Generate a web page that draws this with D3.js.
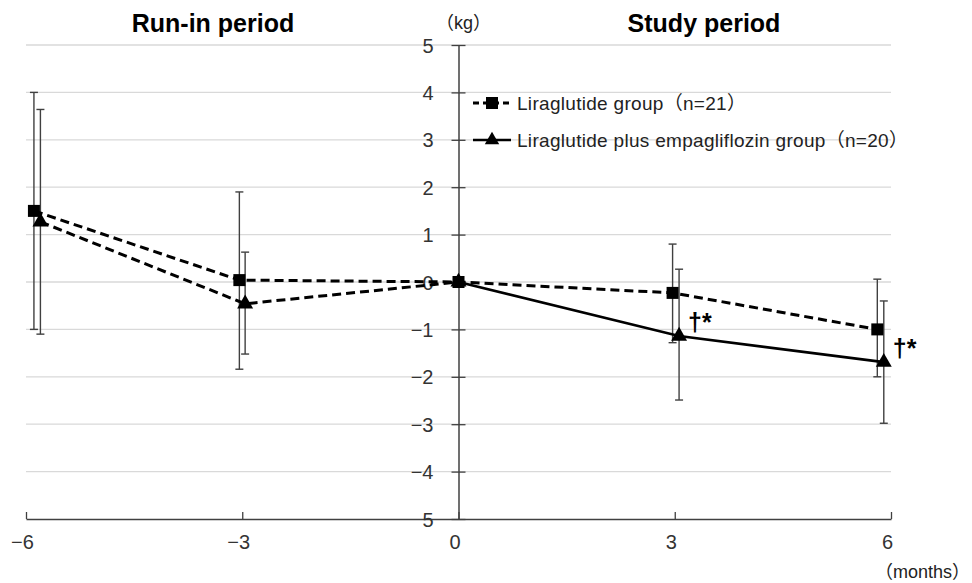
<!DOCTYPE html>
<html>
<head>
<meta charset="utf-8">
<script src="https://cdn.jsdelivr.net/npm/d3@7"></script>
<style>
  body { margin: 0; background: #fff; }
  svg { display: block; }
</style>
</head>
<body>
<svg id="chart" width="972" height="583"></svg>
<script>
// ---- data ----
const monthTicks = [-6, -3, 0, 3, 6];
const yTicks = [-5, -4, -3, -2, -1, 0, 1, 2, 3, 4, 5];
const yTickLabels = ["5", "\u22124", "\u22123", "\u22122", "\u22121", "0", "1", "2", "3", "4", "5"];
const xTickLabels = ["\u22126", "\u22123", "0", "3", "6"];

const liraName = "Liraglutide group\uFF08n=21\uFF09";
const liraX = [-5.89, -3.04, 0, 2.97, 5.81];
const liraMean = [1.5, 0.04, 0, -0.23, -1.0];
const liraUpper = [4.0, 1.9, null, 0.8, 0.06];
const liraLower = [-1.0, -1.84, null, -1.28, -2.0];

const empaName = "Liraglutide plus empagliflozin group\uFF08n=20\uFF09";
const empaX = [-5.8, -2.96, 0, 3.06, 5.9];
const empaMean = [1.27, -0.46, 0, -1.14, -1.69];
const empaUpper = [3.64, 0.63, null, 0.27, -0.4];
const empaLower = [-1.1, -1.52, null, -2.49, -2.98];

const sigLabels = ["", "", "", "\u2020*", "\u2020*"];

// ---- layout ----
const svg = d3.select("#chart");
const x = d3.scaleLinear().domain([-6, 6]).range([26, 891]);
const y = d3.scaleLinear().domain([-5, 5]).range([519, 45]);
const axisFont = "'Liberation Sans', Arial, 'Noto Sans CJK JP', sans-serif";

// gridlines
svg.append("g").selectAll("line").data(yTicks.filter(d => d > -5)).join("line")
  .attr("x1", x(-6)).attr("x2", x(6))
  .attr("y1", d => y(d)).attr("y2", d => y(d))
  .attr("stroke", "#d9d9d9").attr("stroke-width", 1.3);

// x axis (at y = -5)
const xAxis = d3.axisBottom(x).tickValues(monthTicks).tickSize(0).tickFormat((d, i) => xTickLabels[i]);
const gx = svg.append("g").attr("transform", `translate(0,${y(-5)})`).call(xAxis);
gx.select(".domain").attr("stroke", "#404040").attr("stroke-width", 1.5);
gx.selectAll(".tick line").remove();
gx.selectAll(".tick").append("line").attr("y1", 0).attr("y2", -7)
  .attr("stroke", "#404040").attr("stroke-width", 1.3);
gx.selectAll(".tick text").attr("dy", "1.35em").attr("dx", -4)
  .attr("font-size", 20).attr("font-family", axisFont).attr("fill", "#333");

// y axis at x = 0
const yAxis = d3.axisLeft(y).tickValues(yTicks).tickSize(0).tickFormat((d, i) => yTickLabels[i]);
const gy = svg.append("g").attr("transform", `translate(${x(0)},0)`).call(yAxis);
gy.select(".domain").attr("stroke", "#404040").attr("stroke-width", 1.5);
gy.selectAll(".tick line").remove();
gy.selectAll(".tick").append("line").attr("x1", -7).attr("x2", 7)
  .attr("stroke", "#404040").attr("stroke-width", 1.3);
gy.selectAll(".tick text").attr("x", -25).attr("dy", "0.35em")
  .attr("font-size", 20).attr("font-family", axisFont).attr("fill", "#333");

// unit labels
svg.append("text").attr("x", x(0) + 5).attr("y", 29).attr("text-anchor", "middle")
  .attr("font-size", 18).attr("font-family", axisFont).attr("fill", "#222").text("\uFF08kg\uFF09");
svg.append("text").attr("x", 970).attr("y", 578).attr("text-anchor", "end")
  .attr("font-size", 18).attr("font-family", axisFont).attr("fill", "#222").text("\uFF08months\uFF09");

// titles
svg.append("text").attr("x", 213).attr("y", 32).attr("text-anchor", "middle")
  .attr("font-size", 25).attr("font-weight", "bold").attr("font-family", axisFont).text("Run-in period");
svg.append("text").attr("x", 704).attr("y", 32).attr("text-anchor", "middle")
  .attr("font-size", 25).attr("font-weight", "bold").attr("font-family", axisFont).text("Study period");

// error bars
function errorBars(xs, up, lo) {
  const g = svg.append("g").attr("stroke", "#404040").attr("stroke-width", 1.4);
  xs.forEach((xv, i) => {
    if (up[i] == null) return;
    const cx = x(xv);
    g.append("line").attr("x1", cx).attr("x2", cx).attr("y1", y(up[i])).attr("y2", y(lo[i]));
    g.append("line").attr("x1", cx - 4).attr("x2", cx + 4).attr("y1", y(up[i])).attr("y2", y(up[i]));
    g.append("line").attr("x1", cx - 4).attr("x2", cx + 4).attr("y1", y(lo[i])).attr("y2", y(lo[i]));
  });
}
errorBars(liraX, liraUpper, liraLower);
errorBars(empaX, empaUpper, empaLower);

const line = d3.line().x(d => x(d[0])).y(d => y(d[1]));
const liraPts = liraX.map((v, i) => [v, liraMean[i]]);
const empaPts = empaX.map((v, i) => [v, empaMean[i]]);

// empa: dashed for run-in, solid for study period
svg.append("path").attr("d", line(empaPts.slice(0, 3))).attr("fill", "none")
  .attr("stroke", "#000").attr("stroke-width", 3).attr("stroke-dasharray", "9,5");
svg.append("path").attr("d", line(empaPts.slice(2))).attr("fill", "none")
  .attr("stroke", "#000").attr("stroke-width", 2.6);
// lira dashed
svg.append("path").attr("d", line(liraPts)).attr("fill", "none")
  .attr("stroke", "#000").attr("stroke-width", 3).attr("stroke-dasharray", "9,5");

// markers
svg.append("g").selectAll("path").data(empaPts).join("path")
  .attr("transform", d => `translate(${x(d[0])},${y(d[1])})`)
  .attr("d", d3.symbol(d3.symbolTriangle, 110)).attr("fill", "#000");
svg.append("g").selectAll("rect").data(liraPts).join("rect")
  .attr("x", d => x(d[0]) - 6).attr("y", d => y(d[1]) - 6)
  .attr("width", 12).attr("height", 12).attr("fill", "#000");

// significance
empaPts.forEach((d, i) => {
  if (!sigLabels[i]) return;
  svg.append("text").attr("x", x(d[0]) + 9).attr("y", y(d[1]) - 5)
    .attr("font-size", 25).attr("font-weight", "bold").attr("font-family", axisFont)
    .text(sigLabels[i]);
});

// legend
const lg = svg.append("g").attr("font-family", axisFont).attr("font-size", 19)
  .attr("letter-spacing", 0.3).attr("fill", "#222");
const ly1 = 103, ly2 = 140;
lg.append("line").attr("x1", 473).attr("x2", 511).attr("y1", ly1).attr("y2", ly1)
  .attr("stroke", "#000").attr("stroke-width", 3).attr("stroke-dasharray", "6,4");
lg.append("rect").attr("x", 486).attr("y", ly1 - 6).attr("width", 12).attr("height", 12).attr("fill", "#000");
lg.append("text").attr("x", 517).attr("y", ly1).attr("dy", "0.35em").text(liraName);
lg.append("line").attr("x1", 473).attr("x2", 511).attr("y1", ly2).attr("y2", ly2)
  .attr("stroke", "#000").attr("stroke-width", 2.6);
lg.append("path").attr("transform", `translate(492,${ly2})`)
  .attr("d", d3.symbol(d3.symbolTriangle, 90)).attr("fill", "#000");
lg.append("text").attr("x", 517).attr("y", ly2).attr("dy", "0.35em").text(empaName);
</script>
</body>
</html>
